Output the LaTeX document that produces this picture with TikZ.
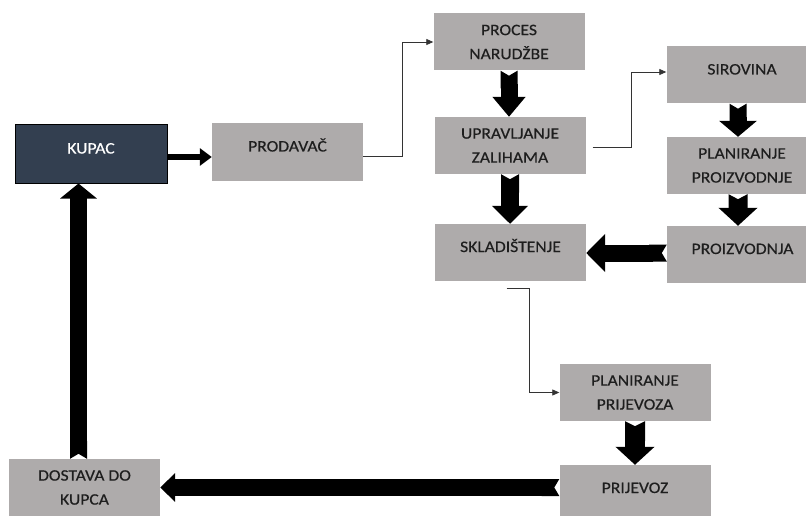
\documentclass[tikz,border=0pt]{standalone}
\usepackage{fontspec}
\setmainfont{Carlito}[FakeStretch=1.1,FakeBold=0.4]
\usetikzlibrary{arrows.meta}
\definecolor{boxgray}{HTML}{AEABAB}
\definecolor{kupacblue}{HTML}{333F50}
\definecolor{txtgray}{HTML}{1E1E1E}
\begin{document}
\begin{tikzpicture}[x=1pt,y=-1pt,
  box/.style={fill=boxgray, text=txtgray, minimum width=151pt, minimum height=57pt,
    inner sep=0pt, align=center, font=\fontsize{16}{24}\selectfont},
  oneline/.style={text height=11pt, text depth=12pt},
  thinline/.style={black!80, line width=0.8pt, -{Triangle[length=7pt,width=6pt]}},
  fat/.style n args={3}{line width=#1, {Triangle Cap[reversed,length=5pt]}-{Triangle[width=#2,length=#3]}}]
\useasboundingbox (0,0) rectangle (806,516);
% kutije
\node[box, oneline, fill=kupacblue, draw=black, line width=1pt, text=white,
  minimum width=152pt, minimum height=58pt] (kupac) at (91,154) {KUPAC};
\node[box, oneline] (prodavac) at (287.5,152) {PRODAVAČ};
\node[box] (proces) at (509,42) {PROCES\\NARUDŽBE};
\node[box] (upravljanje) at (510,145.5) {UPRAVLJANJE\\ZALIHAMA};
\node[box, oneline] (skladistenje) at (510.5,252.5) {SKLADIŠTENJE};
\node[box, oneline] (sirovina) at (742,75) {SIROVINA};
\node[box] (planproiz) at (742,165.5) {PLANIRANJE\\PROIZVODNJE};
\node[box, oneline] (proizvodnja) at (742.5,254.5) {PROIZVODNJA};
\node[box] (planprijevoza) at (635,392.5) {PLANIRANJE\\PRIJEVOZA};
\node[box, oneline] (prijevoz) at (635,493.5) {PRIJEVOZ};
\node[box] (dostava) at (84.5,487.5) {DOSTAVA DO\\KUPCA};
% tanke veze
\draw[thinline] ([yshift=-4pt]prodavac.east) -- ++(39,0) |- (proces.west);
\draw[thinline] ([xshift=7pt,yshift=-2pt]upravljanje.east) -- ++(39,0) |- ([yshift=3pt]sirovina.west);
\draw[thinline] ([xshift=-4pt,yshift=-7pt]skladistenje.south) -- ++(23,0) |- (planprijevoza.west);
% debele strelice
\draw[line width=6pt, -{Triangle[width=17pt,length=12pt]}] ([yshift=-3pt]kupac.east) -- ([yshift=-3pt]kupac.east -| prodavac.west);
\draw[fat={17pt}{32pt}{20pt}] (proces.south) -- (proces.south |- upravljanje.north);
\draw[fat={18pt}{35pt}{18pt}] (upravljanje.south) -- (upravljanje.south |- skladistenje.north);
\draw[fat={17pt}{37pt}{16pt}] ([xshift=-4pt]sirovina.south) -- ([xshift=-4pt]planproiz.north);
\draw[fat={19pt}{38pt}{18pt}] ([xshift=-4pt]planproiz.south) -- ([xshift=-4pt]planproiz.south |- proizvodnja.north);
\draw[fat={17pt}{37pt}{19pt}] ([yshift=1.5pt]proizvodnja.west) -- ([yshift=1.5pt]proizvodnja.west -| skladistenje.east);
\draw[fat={20pt}{38pt}{18pt}] (planprijevoza.south) -- (prijevoz.north);
\draw[fat={17pt}{28pt}{15pt}] (prijevoz.west |- dostava.east) -- (dostava.east);
\draw[fat={17pt}{36pt}{15pt}] ([xshift=-6pt]dostava.north) -- ([xshift=-6pt]dostava.north |- kupac.south);
\end{tikzpicture}
\end{document}
